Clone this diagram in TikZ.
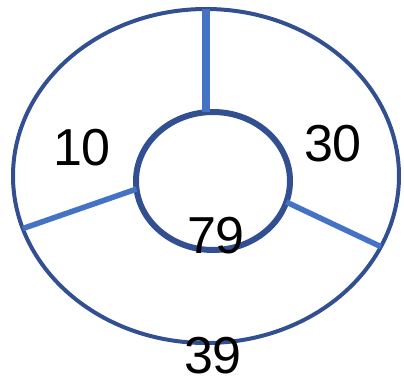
\documentclass[tikz,border=0pt]{standalone}
\usepackage{fontspec}
\setmainfont{Liberation Sans}
\usetikzlibrary{shapes.geometric}
\definecolor{rimblue}{RGB}{50, 80, 145}
\definecolor{spokeblue}{RGB}{68, 114, 196}

\begin{document}
\begin{tikzpicture}[
  x=1pt, y=-1pt,
  rim/.style={ellipse, draw=rimblue, inner sep=0pt, outer sep=0pt},
  spoke/.style={draw=spokeblue, line width=5.5pt},
  num/.style={font=\fontsize{52}{60}\selectfont, inner sep=0pt}
]
  \useasboundingbox (0,0) rectangle (404,380);

  \node[rim, line width=4pt, minimum width=386pt, minimum height=334pt] (outer) at (206,176) {};
  \node[rim, line width=6pt, minimum width=154pt, minimum height=138pt] (hub) at (213,181) {};

  \draw[spoke, line width=8pt] (outer.north) -- (outer.north |- hub.north);
  \draw[spoke] (hub.186) -- (outer.196);
  \draw[spoke] (hub.344) -- (outer.338);

  \node[num] (left)   at (82,148)  {10};
  \node[num] (right)  at (333,144) {30};
  \node[num] (centre) at (216,236) {79};
  \node[num] (bottom) at (213,356) {39};
\end{tikzpicture}
\end{document}
